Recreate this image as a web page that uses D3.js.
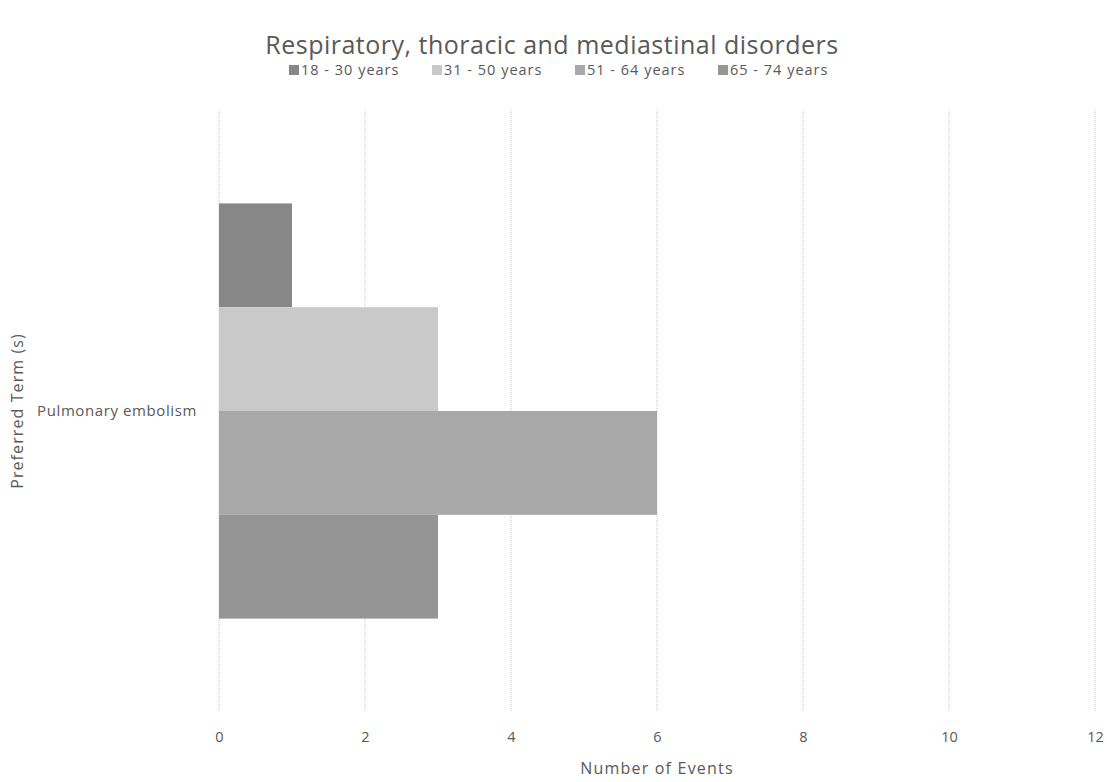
<!DOCTYPE html>
<html><head><meta charset="utf-8">
<script src="https://cdn.jsdelivr.net/npm/d3@7"></script>
<style>body{margin:0;background:#fff}svg text{font-family:"Open Sans",Lato,sans-serif}</style>
</head><body>
<svg id="c" width="1107" height="782"></svg>
<script>
const categories = ["Pulmonary embolism"];
const seriesNames = ["18 - 30 years","31 - 50 years","51 - 64 years","65 - 74 years"];
const seriesValues = [[1],[3],[6],[3]];
const seriesColors = ["#878787","#c9c9c9","#a8a8a8","#959595"];
const xTicks = [0,2,4,6,8,10,12];
const title = "Respiratory, thoracic and mediastinal disorders";
const xTitle = "Number of Events";
const yTitle = "Preferred Term (s)";

const svg = d3.select("#c");
const m = {left:219, right:1095, top:110, bottom:712};
const x = d3.scaleLinear().domain([0,12]).range([m.left,m.right]);
const y = d3.scaleBand().domain(categories).range([m.top,m.bottom]).paddingInner(0).paddingOuter(0.225);
const ys = d3.scaleBand().domain(seriesNames).range([0,y.bandwidth()]);
const font = "'Open Sans',Lato,sans-serif";

// gridlines
svg.append("g").selectAll("line").data(xTicks).join("line")
  .attr("x1",d=>x(d)).attr("x2",d=>x(d)).attr("y1",m.top).attr("y2",m.bottom)
  .attr("stroke","#c8c8c8").attr("stroke-width",1).attr("stroke-dasharray","1,1");

// bars
seriesNames.forEach((s,i)=>{
  svg.append("g").selectAll("rect").data(categories).join("rect")
    .attr("x",x(0)).attr("y",c=>y(c)+ys(s))
    .attr("width",(c,j)=>x(seriesValues[i][j])-x(0)).attr("height",ys.bandwidth())
    .attr("fill",seriesColors[i]);
});

// x axis labels
const xa = d3.axisBottom(x).tickValues(xTicks).tickSize(0).tickPadding(0);
const gx = svg.append("g").attr("transform",`translate(0,${m.bottom+25})`).call(xa);
gx.select(".domain").remove();
gx.selectAll("text").attr("font-size",14.5).attr("fill","#595959").attr("dy","0.35em").attr("font-family",font);

// y axis labels
const ya = d3.axisLeft(y).tickSize(0).tickPadding(0);
const gy = svg.append("g").attr("transform",`translate(${m.left-22},0)`).call(ya);
gy.select(".domain").remove();
gy.selectAll("text").attr("font-size",15).attr("letter-spacing","0.6px").attr("fill","#595959").attr("font-family",font);

// titles
svg.append("text").attr("x",552).attr("y",54).attr("text-anchor","middle")
  .attr("font-size",25).attr("letter-spacing","0.5px").attr("fill","#595959").text(title);
svg.append("text").attr("x",(m.left+m.right)/2).attr("y",774).attr("text-anchor","middle")
  .attr("font-size",16).attr("letter-spacing","1.2px").attr("fill","#595959").text(xTitle);
svg.append("text").attr("transform",`translate(23,${(m.top+m.bottom)/2}) rotate(-90)`).attr("text-anchor","middle")
  .attr("font-size",16).attr("letter-spacing","1.1px").attr("fill","#595959").text(yTitle);

// legend
const lg = svg.append("g");
seriesNames.forEach((s,i)=>{
  const lx = 289 + i*143;
  lg.append("rect").attr("x",lx).attr("y",65).attr("width",10).attr("height",10).attr("fill",seriesColors[i]);
  lg.append("text").attr("x",lx+12).attr("y",75).attr("font-size",14.5).attr("letter-spacing","1px").attr("fill","#595959").text(s);
});
</script>
</body></html>
